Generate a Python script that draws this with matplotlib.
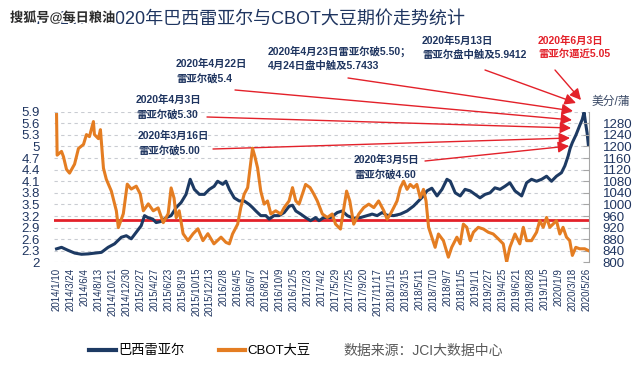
import numpy as np
import matplotlib
matplotlib.use('Agg')
import matplotlib.pyplot as plt
import matplotlib.dates as mdates
from matplotlib import patheffects as pe

plt.rcParams['font.family'] = ['Liberation Sans', 'Noto Sans CJK SC', 'DejaVu Sans']

# x axis categories (every ~40 trading days)
tick_labels = ['2014/1/10', '2014/3/24', '2014/6/4', '2014/8/13', '2014/10/21', '2014/12/30',
               '2015/2/27', '2015/4/27', '2015/6/23', '2015/8/19', '2015/10/15', '2015/12/13',
               '2016/2/8', '2016/4/5', '2016/6/7', '2016/8/12', '2016/10/9', '2016/12/5',
               '2017/2/3', '2017/4/2', '2017/5/29', '2017/7/25', '2017/9/20', '2017/11/17',
               '2018/1/15', '2018/3/15', '2018/5/11', '2018/7/10', '2018/9/7', '2018/11/5',
               '2019/1/1', '2019/2/27', '2019/4/25', '2019/6/21', '2019/8/28', '2019/11/5',
               '2020/1/9', '2020/3/18', '2020/5/26']

# Brazilian real (left axis)
brl_dates = ['2014-01-10', '2014-02-05', '2014-03-12', '2014-04-15', '2014-05-20', '2014-06-23',
             '2014-07-26', '2014-08-28', '2014-09-30', '2014-11-01', '2014-12-05', '2014-12-30',
             '2015-01-20', '2015-02-10', '2015-03-03', '2015-03-17', '2015-03-31', '2015-04-21',
             '2015-05-05', '2015-05-25', '2015-06-15', '2015-07-05', '2015-07-26', '2015-08-15',
             '2015-09-04', '2015-09-21', '2015-10-08', '2015-10-29', '2015-11-19', '2015-12-10',
             '2015-12-30',
             '2016-01-13', '2016-02-03', '2016-02-16', '2016-03-01', '2016-03-21', '2016-04-11',
             '2016-05-03', '2016-05-26', '2016-06-10', '2016-06-26', '2016-07-19', '2016-08-12',
             '2016-08-26', '2016-09-15', '2016-10-06', '2016-10-27', '2016-11-16', '2016-11-30',
             '2016-12-14',
             '2017-01-04', '2017-01-25', '2017-02-15', '2017-03-08', '2017-03-22', '2017-04-11',
             '2017-05-09', '2017-06-05', '2017-06-25', '2017-07-16', '2017-08-11', '2017-09-08',
             '2017-10-05', '2017-10-26', '2017-11-16', '2017-12-07', '2017-12-28',
             '2018-01-25', '2018-02-22', '2018-03-22', '2018-04-18', '2018-05-08', '2018-05-29',
             '2018-06-13', '2018-07-04', '2018-07-26', '2018-08-16', '2018-09-06', '2018-09-20',
             '2018-10-11', '2018-11-01', '2018-11-21', '2018-12-12',
             '2019-01-01', '2019-01-21', '2019-02-11', '2019-03-03', '2019-03-23', '2019-04-13',
             '2019-05-03', '2019-05-23', '2019-06-13', '2019-07-14', '2019-08-07', '2019-08-31',
             '2019-09-25', '2019-10-20', '2019-11-13', '2019-12-06', '2019-12-29',
             '2020-01-22', '2020-02-08', '2020-02-24', '2020-03-05', '2020-03-16', '2020-04-03',
             '2020-04-22', '2020-05-04', '2020-05-13', '2020-05-22', '2020-05-28', '2020-06-03']
brl_values = [2.35, 2.39, 2.31, 2.24, 2.21, 2.22, 2.24, 2.26, 2.39, 2.48, 2.65, 2.69,
              2.61, 2.78, 2.95, 3.21, 3.16, 3.12, 3.03, 3.06, 3.16, 3.21, 3.42, 3.55,
              3.76, 4.15, 3.89, 3.76, 3.76, 3.89, 3.97,
              4.10, 4.02, 4.10, 3.89, 3.67, 3.59, 3.59, 3.50, 3.42, 3.33, 3.21, 3.21,
              3.12, 3.21, 3.21, 3.29, 3.45, 3.48, 3.33,
              3.25, 3.16, 3.08, 3.16, 3.08, 3.16, 3.16, 3.29, 3.33, 3.21, 3.14, 3.16,
              3.21, 3.25, 3.21, 3.29, 3.22,
              3.21, 3.25, 3.33, 3.46, 3.59, 3.72, 3.85, 3.92, 3.72, 3.89, 4.15, 4.10,
              3.80, 3.72, 3.89, 3.85,
              3.76, 3.67, 3.76, 3.80, 3.93, 3.89, 3.97, 4.06, 3.85, 3.72, 4.06, 4.15,
              4.10, 4.15, 4.23, 4.10, 4.23,
              4.32, 4.50, 4.75, 4.95, 5.10, 5.30, 5.55, 5.70, 5.88, 5.55, 5.35, 5.05]

# CBOT soybean, cents/bushel (right axis)
soy_dates = ['2014-01-10', '2014-01-13', '2014-02-05', '2014-02-15', '2014-03-03', '2014-03-19',
             '2014-03-29', '2014-04-14', '2014-05-04', '2014-05-30', '2014-06-14', '2014-06-29',
             '2014-07-19', '2014-07-24', '2014-08-13', '2014-08-23', '2014-09-07', '2014-09-21',
             '2014-10-16', '2014-11-10', '2014-11-20', '2014-12-15',
             '2015-01-03', '2015-01-20', '2015-02-10', '2015-02-27', '2015-03-12', '2015-04-02',
             '2015-04-23', '2015-05-13', '2015-06-03', '2015-06-23', '2015-07-05', '2015-07-17',
             '2015-07-26', '2015-08-07', '2015-08-23', '2015-09-12', '2015-10-03', '2015-10-23',
             '2015-11-13', '2015-12-04', '2015-12-29',
             '2016-01-27', '2016-02-16', '2016-03-01', '2016-03-14', '2016-04-04', '2016-04-18',
             '2016-05-03', '2016-05-19', '2016-05-30', '2016-06-10', '2016-06-21', '2016-07-04',
             '2016-07-19', '2016-08-04', '2016-08-19', '2016-09-02', '2016-09-22', '2016-10-13',
             '2016-10-27', '2016-11-16', '2016-11-30', '2016-12-14', '2016-12-28',
             '2017-01-11', '2017-01-25', '2017-02-13', '2017-03-01', '2017-03-15', '2017-04-05',
             '2017-04-25', '2017-05-15', '2017-05-29', '2017-06-18', '2017-07-02', '2017-07-13',
             '2017-07-26', '2017-08-11', '2017-09-01', '2017-09-21', '2017-10-12', '2017-11-02',
             '2017-11-22', '2017-12-14', '2017-12-28',
             '2018-01-11', '2018-01-25', '2018-02-08', '2018-02-22', '2018-03-08', '2018-03-22',
             '2018-04-04', '2018-04-18', '2018-05-01', '2018-05-15', '2018-05-29', '2018-06-09',
             '2018-06-20', '2018-07-04', '2018-07-18', '2018-08-01', '2018-08-22', '2018-09-12',
             '2018-09-26', '2018-10-18', '2018-11-01', '2018-11-14', '2018-11-28', '2018-12-12',
             '2018-12-25',
             '2019-01-14', '2019-02-04', '2019-02-24', '2019-03-16', '2019-04-06', '2019-04-26',
             '2019-05-10', '2019-05-23', '2019-06-13', '2019-07-05', '2019-07-22', '2019-08-07',
             '2019-08-31', '2019-09-25', '2019-10-11', '2019-10-28', '2019-11-13', '2019-11-28',
             '2019-12-13', '2019-12-29',
             '2020-01-14', '2020-01-30', '2020-02-16', '2020-03-03', '2020-03-16', '2020-04-02',
             '2020-04-21', '2020-05-16', '2020-06-03']
soy_values = [1310, 1170, 1183, 1165, 1121, 1108,
              1120, 1139, 1193, 1207, 1241, 1234,
              1286, 1241, 1227, 1258, 1125, 1087,
              1046, 978, 920, 968,
              1070, 1053, 1063, 1036, 978, 1002,
              978, 988, 937, 968, 1057, 1022,
              954, 978, 899, 875, 899, 916,
              875, 899, 864,
              887, 869, 864, 898, 932, 989,
              1035, 1058, 1126, 1194, 1166, 1126,
              1046, 1001, 1012, 967, 978, 967,
              989, 1012, 1058, 1012, 1001,
              1035, 1069, 1058, 1035, 1012, 967,
              955, 967, 932, 915, 989, 1046,
              1012, 932, 967, 989, 1001, 989,
              1012, 978, 949,
              967, 989, 1012, 1058, 1080, 1052,
              1069, 1058, 1069, 1023, 1052, 1012,
              921, 887, 852, 898, 875, 818,
              852, 887, 864, 932, 921, 875,
              904,
              921, 915, 904, 898, 881, 864,
              801, 852, 898, 864, 921, 875,
              875, 904, 944, 921, 955, 921,
              932, 944,
              898, 921, 887, 875, 824, 852,
              847, 847, 841]

left_ticks = [2, 2.3, 2.6, 2.9, 3.2, 3.5, 3.8, 4.1, 4.4, 4.7, 5, 5.3, 5.6, 5.9]
right_ticks = [800, 840, 880, 920, 960, 1000, 1040, 1080, 1120, 1160, 1200, 1240, 1280]
ref_level = 3.1

notes = ['2020年4月22日\n雷亚尔破5.4',
         '2020年4月23日雷亚尔破5.50；\n4月24日盘中触及5.7433',
         '2020年4月3日\n雷亚尔破5.30',
         '2020年3月16日\n雷亚尔破5.00',
         '2020年3月5日\n雷亚尔破4.60',
         '2020年5月13日\n雷亚尔盘中触及5.9412',
         '2020年6月3日\n雷亚尔逼近5.05']
# layout in pixels from top-left: text (left, top), arrow start, arrow tip
note_text_px = [(176, 59), (268, 46), (136, 95), (138, 131), (354, 155), (422, 36), (538, 36)]
note_from_px = [(235, 90), (348, 78), (207, 117), (213, 149), (425, 161), (485, 70), (555, 70)]
note_tip_px = [(572, 120), (573, 111), (571, 128), (570, 138), (569, 146), (576, 103), (581, 100)]
note_colors = ['#1f3560'] * 6 + ['#e3212a']

NAVY = '#1f3560'
BLUE = '#1d3a63'
ORANGE = '#e47d22'
RED = '#e3212a'

tick_num = mdates.datestr2num(tick_labels)
anchor_num = np.append(tick_num, tick_num[-1] + 69)
anchor_pos = np.arange(len(anchor_num))


def to_pos(dates):
    return np.interp(mdates.datestr2num(dates), anchor_num, anchor_pos)


def px(x, y):
    return (x / 640, 1 - y / 368)


fig = plt.figure(figsize=(6.4, 3.68), dpi=100)
ax = fig.add_axes([0.084, 0.287, 0.836, 0.4095])
ax2 = ax.twinx()

ax.axhline(ref_level, color=RED, lw=2, zorder=1)
l1, = ax.plot(to_pos(brl_dates), brl_values, color=BLUE, lw=2.2, zorder=3)
l2, = ax2.plot(to_pos(soy_dates), soy_values, color=ORANGE, lw=2.2, zorder=3)

ax.set_xlim(-0.2, 38.15)
ax.set_ylim(2, 5.9)
ax2.set_ylim(800, 1320)

ax.set_yticks(left_ticks)
ax.set_yticklabels(['%g' % v for v in left_ticks])
ax2.set_yticks(right_ticks)
ax.set_xticks(np.arange(len(tick_labels)))
ax.set_xticklabels(tick_labels)

ax.grid(axis='y', color='#c9ccd2', linestyle=(0, (3, 3)), lw=0.8)
ax.set_axisbelow(True)
for s in ax.spines.values():
    s.set_visible(False)
for k, s in ax2.spines.items():
    s.set_visible(k == 'right')
ax2.spines['right'].set_color('#a6a6a6')

ax.tick_params(axis='y', length=0, pad=10, labelsize=9.5, labelcolor=NAVY)
ax.tick_params(axis='x', length=0, pad=4, labelsize=7, labelcolor=NAVY, rotation=90)
ax2.tick_params(axis='y', direction='in', length=4, color='#a6a6a6', pad=10,
                labelsize=9.5, labelcolor=NAVY)

fig.text(*px(592, 102), '美分/蒲', fontsize=8.5, color='#3b4a66', va='center', ha='left')

for txt, tpos, fpos, tip, c in zip(notes, note_text_px, note_from_px, note_tip_px, note_colors):
    fig.text(*px(*tpos), txt, fontsize=7.5, fontweight='bold', color=c,
             ha='left', va='top', linespacing=1.45)
    ax.annotate('', xy=px(*tip), xycoords='figure fraction',
                xytext=px(*fpos), textcoords='figure fraction',
                arrowprops=dict(arrowstyle='-|>,head_length=0.55,head_width=0.28',
                                color=RED, lw=1.0, mutation_scale=12,
                                shrinkA=0, shrinkB=0))

fig.text(*px(15, 20), 'JCI：2014-2020年巴西雷亚尔与CBOT大豆期价走势统计',
         fontsize=13, color=NAVY, va='center', ha='left')
fig.text(*px(10, 18), '搜狐号@每日粮油', fontsize=9.5, fontweight='bold', color='#2a2a2a',
         va='center', ha='left',
         path_effects=[pe.withStroke(linewidth=2.5, foreground='white')])

leg = fig.legend([l1, l2], ['巴西雷亚尔', 'CBOT大豆'], loc='center',
                 bbox_to_anchor=px(200, 351), ncol=2, frameon=False, fontsize=9.5,
                 handlelength=2.0, handletextpad=0.2, columnspacing=2.6)
for h in leg.legend_handles:
    h.set_linewidth(3)
fig.text(*px(343, 351), '数据来源：JCI大数据中心', fontsize=10, color='#595959',
         va='center', ha='left')

fig.savefig('out.png', dpi=100, facecolor='white')
